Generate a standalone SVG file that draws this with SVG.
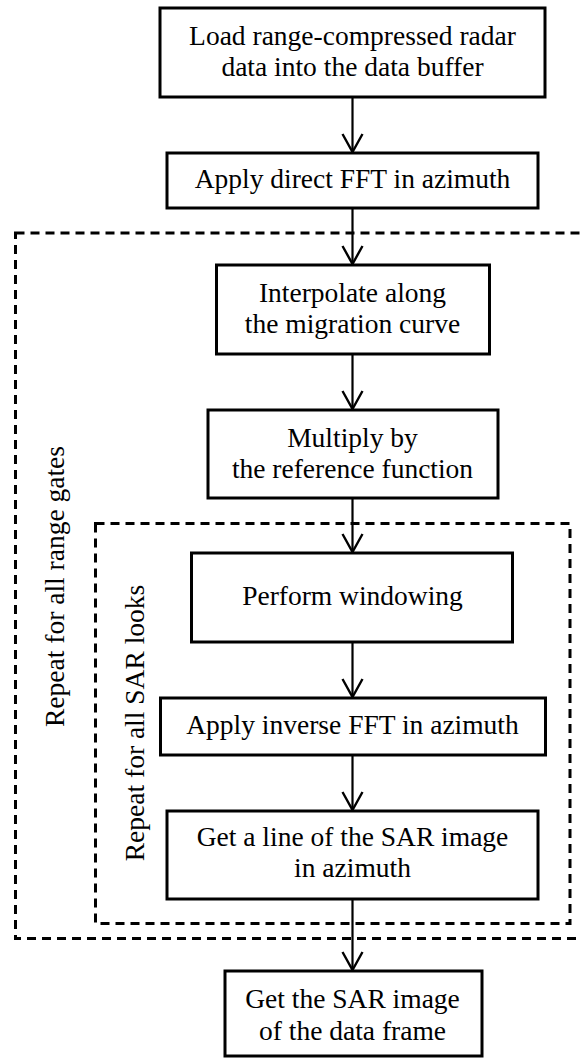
<svg xmlns="http://www.w3.org/2000/svg" width="581" height="1059" viewBox="0 0 581 1059" font-family="'Liberation Serif', 'DejaVu Serif', serif">
  <style>
    .box { fill: #ffffff; stroke: #000000; stroke-width: 3; }
    .loop { fill: none; stroke: #000000; stroke-width: 3; stroke-dasharray: 9 6; }
    .conn { fill: none; stroke: #000000; stroke-width: 2.2; }
    .t { font-family: 'Liberation Serif', 'DejaVu Serif', serif; font-size: 27.5px; fill: #000000; text-anchor: middle; }
  </style>
  <defs>
    <marker id="arrow" viewBox="-2 -12 22 24" refX="18" refY="0" markerWidth="22" markerHeight="24" markerUnits="userSpaceOnUse" orient="auto">
      <path d="M 0 -10 L 18 0 L 0 10" fill="none" stroke="#000000" stroke-width="2.4"/>
    </marker>
  </defs>
  <rect width="581" height="1059" fill="#ffffff"/>

  <g id="loop-range-gates">
    <rect class="loop" x="15.5" y="233" width="580" height="705.5"/>
    <text class="t" transform="translate(63.5,586.5) rotate(-90)">Repeat for all range gates</text>
  </g>
  <g id="loop-sar-looks">
    <rect class="loop" x="95.5" y="523.5" width="474.5" height="400"/>
    <text class="t" transform="translate(143.5,723) rotate(-90)">Repeat for all SAR looks</text>
  </g>

  <g id="connectors">
    <line class="conn" x1="352.5" y1="97" x2="352.5" y2="152" marker-end="url(#arrow)"/>
    <line class="conn" x1="352.5" y1="208" x2="352.5" y2="264" marker-end="url(#arrow)"/>
    <line class="conn" x1="352.5" y1="354" x2="352.5" y2="409" marker-end="url(#arrow)"/>
    <line class="conn" x1="352.5" y1="498" x2="352.5" y2="552" marker-end="url(#arrow)"/>
    <line class="conn" x1="352.5" y1="642" x2="352.5" y2="697" marker-end="url(#arrow)"/>
    <line class="conn" x1="352.5" y1="755" x2="352.5" y2="810" marker-end="url(#arrow)"/>
    <line class="conn" x1="352.5" y1="899" x2="352.5" y2="970" marker-end="url(#arrow)"/>
  </g>

  <g id="node-load">
    <rect class="box" x="160" y="8" width="385" height="89"/>
    <text class="t" x="352.5" y="45">Load range-compressed radar</text>
    <text class="t" x="352.5" y="76">data into the data buffer</text>
  </g>
  <g id="node-direct-fft">
    <rect class="box" x="167" y="153" width="371" height="55"/>
    <text class="t" x="352.5" y="188">Apply direct FFT in azimuth</text>
  </g>
  <g id="node-interpolate">
    <rect class="box" x="216.5" y="265" width="273" height="89"/>
    <text class="t" x="352.5" y="302">Interpolate along</text>
    <text class="t" x="352.5" y="333">the migration curve</text>
  </g>
  <g id="node-multiply">
    <rect class="box" x="208" y="410" width="290" height="88"/>
    <text class="t" x="352.5" y="446.5">Multiply by</text>
    <text class="t" x="352.5" y="478">the reference function</text>
  </g>
  <g id="node-windowing">
    <rect class="box" x="191.5" y="553" width="321" height="89"/>
    <text class="t" x="352.5" y="605">Perform windowing</text>
  </g>
  <g id="node-inverse-fft">
    <rect class="box" x="160.5" y="698" width="385" height="57"/>
    <text class="t" x="352.5" y="733.5">Apply inverse FFT in azimuth</text>
  </g>
  <g id="node-line">
    <rect class="box" x="167" y="811" width="371" height="88"/>
    <text class="t" x="352.5" y="845.5">Get a line of the SAR image</text>
    <text class="t" x="352.5" y="877">in azimuth</text>
  </g>
  <g id="node-image">
    <rect class="box" x="225" y="971" width="257" height="85"/>
    <text class="t" x="352.5" y="1008">Get the SAR image</text>
    <text class="t" x="352.5" y="1039.5">of the data frame</text>
  </g>
</svg>
